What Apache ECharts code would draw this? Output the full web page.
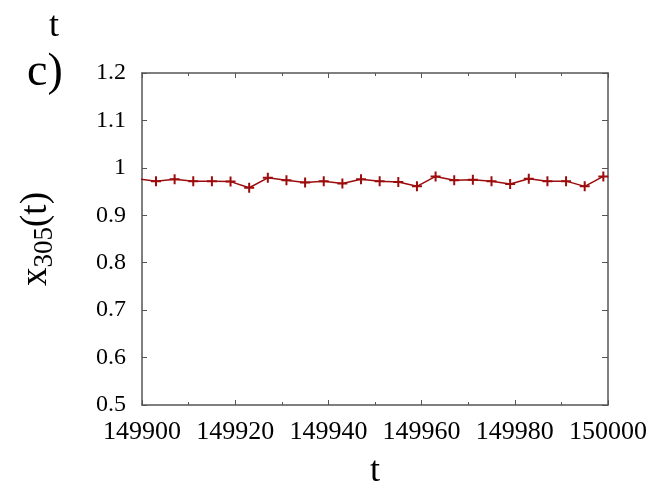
<!DOCTYPE html>
<html>
<head>
<meta charset="utf-8">
<script src="https://cdn.jsdelivr.net/npm/echarts@6/dist/echarts.min.js"></script>
<style>
html,body{margin:0;padding:0;background:#fff;}
#chart{width:654px;height:488px;}
</style>
</head>
<body>
<div id="chart"></div>
<script>
const times = [149899, 149903, 149907, 149911, 149915, 149919, 149923, 149927, 149931, 149935, 149939, 149943, 149947, 149951, 149955, 149959, 149963, 149967, 149971, 149975, 149979, 149983, 149987, 149991, 149995, 149999];
const values = [0.977, 0.972, 0.976, 0.972, 0.972, 0.971, 0.958, 0.979, 0.974, 0.969, 0.972, 0.967, 0.976, 0.972, 0.970, 0.961, 0.982, 0.974, 0.975, 0.972, 0.966, 0.977, 0.972, 0.972, 0.961, 0.982];
const xTicks = ['149900', '149920', '149940', '149960', '149980', '150000'];
const yTicks = ['0.5', '0.6', '0.7', '0.8', '0.9', '1', '1.1', '1.2'];

const FONT = 'Liberation Serif';
const axisColor = '#555';
const lineColor = '#9c0c0c';

const chart = echarts.init(document.getElementById('chart'), null, {renderer: 'canvas'});
const data = times.map((t, i) => [t, values[i]]);
const xMin = Number(xTicks[0]);
const xMax = Number(xTicks[xTicks.length - 1]);

const commonLine = {show: true, lineStyle: {color: axisColor, width: 1.5}};

chart.setOption({
  animation: false,
  backgroundColor: '#fff',
  grid: {left: 142, right: 46, top: 73, bottom: 83, containLabel: false, outerBoundsMode: 'none'},
  title: [
    {text: 't', left: 44, top: 4, textStyle: {fontFamily: FONT, fontSize: 36, fontWeight: 'normal', color: '#000'}},
    {text: 'c)', left: 22, top: 45, textStyle: {fontFamily: FONT, fontSize: 46, fontWeight: 'normal', color: '#000'}}
  ],
  xAxis: [{
    type: 'value',
    position: 'bottom',
    min: xMin,
    max: xMax,
    interval: 20,
    name: 't',
    nameLocation: 'middle',
    nameGap: 49,
    nameTextStyle: {fontFamily: FONT, fontSize: 36, color: '#000'},
    axisLine: commonLine,
    axisTick: {show: true, inside: true, length: 5, lineStyle: {color: axisColor, width: 1}},
    minorTick: {show: true, splitNumber: 2, length: 3, lineStyle: {color: axisColor, width: 1}},
    axisLabel: {
      fontFamily: FONT, fontSize: 26, color: '#000', margin: 14,
      formatter: v => xTicks[Math.round((v - xMin) / 20)]
    },
    splitLine: {show: false},
    minorSplitLine: {show: false}
  }, {
    type: 'value',
    position: 'top',
    min: xMin,
    max: xMax,
    interval: 20,
    axisLine: commonLine,
    axisTick: {show: true, inside: true, length: 5, lineStyle: {color: axisColor, width: 1}},
    minorTick: {show: true, splitNumber: 2, length: 3, lineStyle: {color: axisColor, width: 1}},
    axisLabel: {show: false},
    splitLine: {show: false}
  }],
  yAxis: [{
    type: 'value',
    position: 'left',
    min: 0.5,
    max: 1.2,
    interval: 0.1,
    name: '{x|x}{s|305}{x|(t)}',
    nameLocation: 'middle',
    nameGap: 84,
    nameRotate: 90,
    nameTextStyle: {
      fontFamily: FONT, color: '#000',
      rich: {
        x: {fontFamily: FONT, fontSize: 37, color: '#000', verticalAlign: 'middle', lineHeight: 44},
        s: {fontFamily: FONT, fontSize: 27, color: '#000', verticalAlign: 'bottom', lineHeight: 15}
      }
    },
    axisLine: commonLine,
    axisTick: {show: true, inside: true, length: 5, lineStyle: {color: axisColor, width: 1}},
    axisLabel: {
      fontFamily: FONT, fontSize: 24, color: '#000', margin: 16,
      formatter: v => yTicks[Math.round((v - 0.5) * 10)]
    },
    splitLine: {show: false}
  }, {
    type: 'value',
    position: 'right',
    min: 0.5,
    max: 1.2,
    interval: 0.1,
    axisLine: commonLine,
    axisTick: {show: true, inside: true, length: 6, lineStyle: {color: axisColor, width: 1}},
    axisLabel: {show: false},
    splitLine: {show: false}
  }],
  series: [{
    type: 'line',
    xAxisIndex: 0,
    yAxisIndex: 0,
    data: data,
    clip: true,
    symbol: 'path://M4,0H6V4H10V6H6V10H4V6H0V4H4Z',
    symbolSize: 10,
    showAllSymbol: true,
    itemStyle: {color: lineColor},
    lineStyle: {color: lineColor, width: 1.5}
  }]
});
</script>
</body>
</html>
